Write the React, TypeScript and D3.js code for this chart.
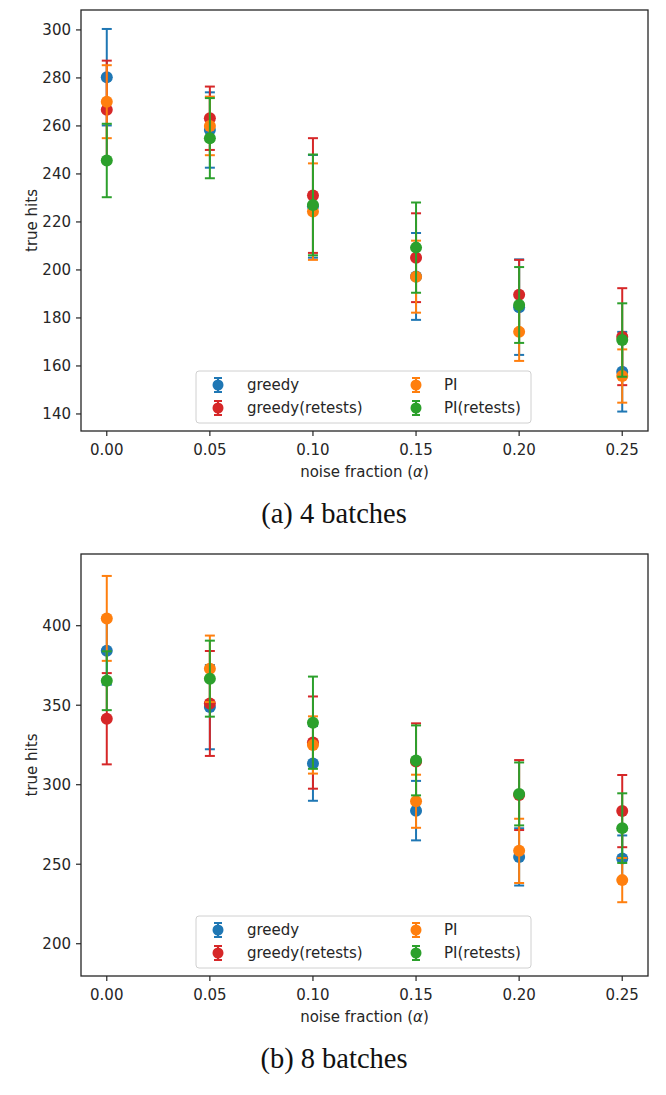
import React, { useEffect } from "react";
import * as d3 from "d3";

const NOISE = [0, 0.05, 0.1, 0.15, 0.2, 0.25];
const SERIES = ["greedy", "greedy(retests)", "PI", "PI(retests)"];
const COLORS = ["#1f77b4", "#d62728", "#ff7f0e", "#2ca02c"];
const X_TICKS = [0, 0.05, 0.1, 0.15, 0.2, 0.25];

// (a) 4 batches
const greedy4 = [280.3, 258.3, 226.5, 197.3, 184.5, 157.6];
const greedy4Err = [20.1, 15.7, 21.4, 18.1, 19.9, 16.6];
const greedyRetest4 = [266.7, 263.2, 231.0, 205.1, 189.7, 172.2];
const greedyRetest4Err = [20.5, 13.2, 23.9, 18.5, 14.5, 20.2];
const pi4 = [270.1, 260.0, 224.3, 197.2, 174.2, 155.8];
const pi4Err = [15.2, 12.2, 20.1, 15.0, 12.1, 11.1];
const piRetest4 = [245.6, 254.9, 227.1, 209.3, 185.4, 170.8];
const piRetest4Err = [15.3, 16.7, 21.0, 18.8, 15.8, 15.3];
const Y_TICKS_4 = [140, 160, 180, 200, 220, 240, 260, 280, 300];

// (b) 8 batches
const greedy8 = [384.2, 348.8, 313.4, 283.7, 254.6, 253.6];
const greedy8Err = [21.3, 26.5, 23.5, 18.7, 18.0, 14.5];
const greedyRetest8 = [341.5, 351.1, 326.5, 314.6, 293.5, 283.4];
const greedyRetest8Err = [28.7, 33.0, 29.0, 24.0, 22.0, 22.7];
const pi8 = [404.6, 372.9, 325.0, 289.6, 258.4, 240.0];
const pi8Err = [26.7, 20.9, 18.0, 16.7, 20.2, 13.9];
const piRetest8 = [365.4, 366.7, 339.0, 315.3, 294.2, 272.7];
const piRetest8Err = [18.5, 23.9, 29.0, 22.0, 19.8, 21.9];
const Y_TICKS_8 = [200, 250, 300, 350, 400];

const FONT = "'DejaVu Sans', sans-serif";
const TEXT = "#262626";

type PanelProps = {
  top: number;
  bottom: number;
  yDomain: [number, number];
  yTicks: number[];
  means: number[][];
  errs: number[][];
  caption: string;
};

function Panel({ top, bottom, yDomain, yTicks, means, errs, caption }: PanelProps) {
  const left = 81;
  const right = 648;
  const x = d3.scaleLinear().domain([-0.0125, 0.2625]).range([left, right]);
  const y = d3.scaleLinear().domain(yDomain).range([bottom, top]);
  const cap = 5;
  const r = 6;
  const legTop = bottom - 60;
  const legLeft = 196;
  const legRight = 531;
  const legCols = [218, 416];
  const legTextX = [247, 444];
  const legRows = [legTop + 14, legTop + 37];
  const fmtX = d3.format(".2f");
  const midY = (top + bottom) / 2;
  const midX = (left + right) / 2;

  return (
    <g>
      {SERIES.map((s, si) => (
        <g key={s}>
          {NOISE.map((n, i) => {
            const cx = x(n);
            const yTop = y(means[si][i] + errs[si][i]);
            const yBot = y(means[si][i] - errs[si][i]);
            return (
              <g key={i} stroke={COLORS[si]} strokeWidth={2}>
                <line x1={cx} x2={cx} y1={yTop} y2={yBot} />
                <line x1={cx - cap} x2={cx + cap} y1={yTop} y2={yTop} />
                <line x1={cx - cap} x2={cx + cap} y1={yBot} y2={yBot} />
              </g>
            );
          })}
          {NOISE.map((n, i) => (
            <circle key={"c" + i} cx={x(n)} cy={y(means[si][i])} r={r} fill={COLORS[si]} />
          ))}
        </g>
      ))}

      <rect x={legLeft} y={legTop} width={legRight - legLeft} height={52} rx={3} fill="white" fillOpacity={0.8} stroke="#d0d0d0" strokeWidth={1} />
      {SERIES.map((s, si) => {
        const col = Math.floor(si / 2);
        const row = si % 2;
        const cx = legCols[col];
        const cy = legRows[row];
        return (
          <g key={"leg" + s}>
            <g stroke={COLORS[si]} strokeWidth={2}>
              <line x1={cx} x2={cx} y1={cy - 7} y2={cy + 7} />
              <line x1={cx - 4} x2={cx + 4} y1={cy - 7} y2={cy - 7} />
              <line x1={cx - 4} x2={cx + 4} y1={cy + 7} y2={cy + 7} />
            </g>
            <circle cx={cx} cy={cy} r={5.5} fill={COLORS[si]} />
            <text x={legTextX[col]} y={cy} dy="0.35em" fontFamily={FONT} fontSize={15} fill={TEXT}>{s}</text>
          </g>
        );
      })}

      <rect x={left} y={top} width={right - left} height={bottom - top} fill="none" stroke={TEXT} strokeWidth={1.3} />

      {X_TICKS.map((t) => (
        <g key={"xt" + t}>
          <line x1={x(t)} x2={x(t)} y1={bottom} y2={bottom + 5} stroke={TEXT} strokeWidth={1.2} />
          <text x={x(t)} y={bottom + 24} textAnchor="middle" fontFamily={FONT} fontSize={15} fill={TEXT}>{fmtX(t)}</text>
        </g>
      ))}
      {yTicks.map((t) => (
        <g key={"yt" + t}>
          <line x1={left - 5} x2={left} y1={y(t)} y2={y(t)} stroke={TEXT} strokeWidth={1.2} />
          <text x={left - 10} y={y(t)} dy="0.36em" textAnchor="end" fontFamily={FONT} fontSize={15} fill={TEXT}>{t}</text>
        </g>
      ))}

      <text x={midX} y={bottom + 46} textAnchor="middle" fontFamily={FONT} fontSize={15} fill={TEXT}>
        noise fraction (<tspan fontStyle="italic">α</tspan>)
      </text>
      <text transform={`translate(37,${midY}) rotate(-90)`} textAnchor="middle" fontFamily={FONT} fontSize={15} fill={TEXT}>true hits</text>

      <text x={334} y={bottom + 92} textAnchor="middle" fontFamily="'Liberation Serif', serif" fontSize={28.5} fill="#111">{caption}</text>
    </g>
  );
}

export default function App() {
  useEffect(() => {
    document.body.style.margin = "0";
  }, []);
  return (
    <svg width={666} height={1095} style={{ display: "block", background: "white" }}>
      <rect width={666} height={1095} fill="white" />
      <Panel
        top={10}
        bottom={431}
        yDomain={[132.9, 308.3]}
        yTicks={Y_TICKS_4}
        means={[greedy4, greedyRetest4, pi4, piRetest4]}
        errs={[greedy4Err, greedyRetest4Err, pi4Err, piRetest4Err]}
        caption="(a) 4 batches"
      />
      <Panel
        top={554}
        bottom={976}
        yDomain={[179.7, 445.1]}
        yTicks={Y_TICKS_8}
        means={[greedy8, greedyRetest8, pi8, piRetest8]}
        errs={[greedy8Err, greedyRetest8Err, pi8Err, piRetest8Err]}
        caption="(b) 8 batches"
      />
    </svg>
  );
}
